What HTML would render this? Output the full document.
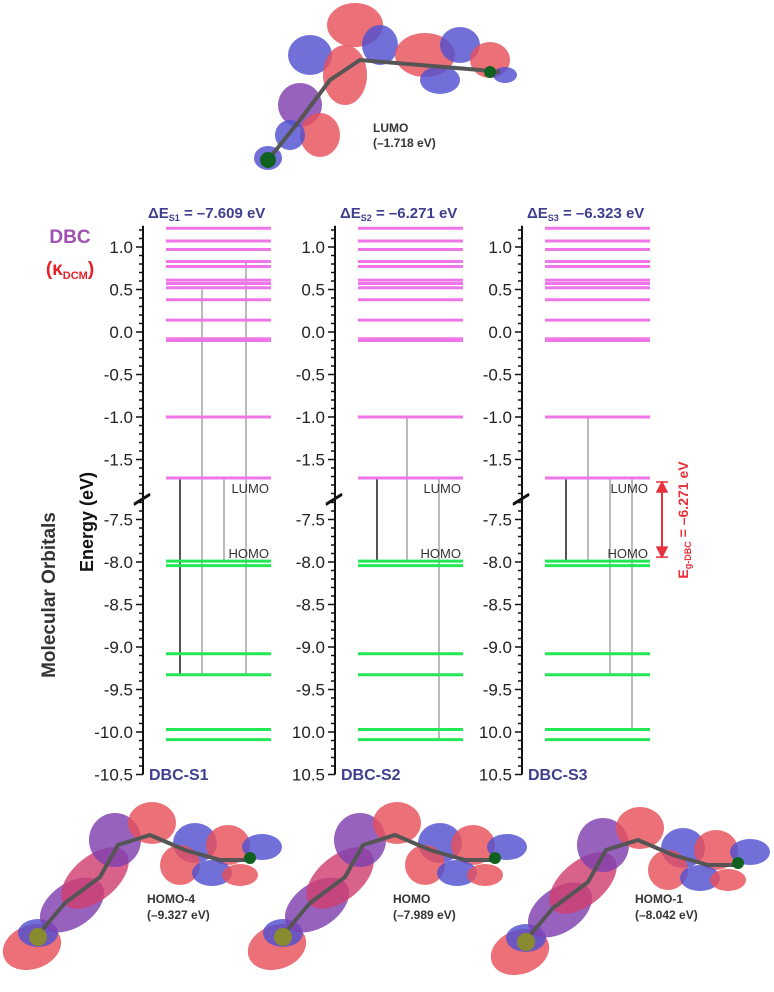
<!DOCTYPE html>
<html><head><meta charset="utf-8">
<style>
html,body{margin:0;padding:0;background:#fff;}
body{width:774px;height:992px;overflow:hidden;font-family:"Liberation Sans",Arial,sans-serif;}
svg{display:block;}
</style></head>
<body>
<svg id="fig" width="774" height="992" viewBox="0 0 774 992" xmlns="http://www.w3.org/2000/svg" font-family="Liberation Sans, Arial, sans-serif">
<rect width="774" height="992" fill="#fff"/>
<g id="mols"></g>
<g id="chart"></g>
<text x="70" y="243" font-size="19" font-weight="bold" fill="#a050b0" text-anchor="middle">DBC</text>
<text x="70" y="275" font-size="19" font-weight="bold" fill="#e8202a" text-anchor="middle">(κ<tspan font-size="11" dy="4">DCM</tspan><tspan dy="-4">)</tspan></text>
<text transform="translate(55,595) rotate(-90)" font-size="19" font-weight="bold" fill="#333" text-anchor="middle">Molecular Orbitals</text>
<text transform="translate(93,522) rotate(-90)" font-size="18" font-weight="bold" fill="#111" text-anchor="middle">Energy (eV)</text>
<text x="373" y="132" font-size="12" font-weight="bold" fill="#333">LUMO</text>
<text x="373" y="147" font-size="12" font-weight="bold" fill="#333">(–1.718 eV)</text>
<text x="147" y="903" font-size="12" font-weight="bold" fill="#333">HOMO-4</text>
<text x="147" y="919" font-size="12" font-weight="bold" fill="#333">(–9.327 eV)</text>
<text x="393" y="903" font-size="12" font-weight="bold" fill="#333">HOMO</text>
<text x="393" y="919" font-size="12" font-weight="bold" fill="#333">(–7.989 eV)</text>
<text x="635" y="903" font-size="12" font-weight="bold" fill="#333">HOMO-1</text>
<text x="635" y="919" font-size="12" font-weight="bold" fill="#333">(–8.042 eV)</text>
</svg>
<script>
// ---- data ----
const pinkLevels = [1.22, 1.07, 0.97, 0.83, 0.77, 0.61, 0.57, 0.52, 0.38, 0.14, -0.08, -0.10, -1.0, -1.718];
const greenLevels = [-7.989, -8.042, -9.08, -9.327, -9.97, -10.09];
const panelNames = ["DBC-S1", "DBC-S2", "DBC-S3"];
const panelTitles = ["S1", "S2", "S3"];
const panelDeltaE = ["–7.609", "–6.271", "–6.323"];
const upperTicks = [1.0, 0.5, 0.0, -0.5, -1.0, -1.5];
const upperTickLabels = ["1.0","0.5","0.0","-0.5","-1.0","-1.5"];
const lowerTicks = [-7.5, -8.0, -8.5, -9.0, -9.5, -10.0, -10.5];
const lowerTickLabels = ["-7.5","-8.0","-8.5","-9.0","-9.5","-10.0","-10.5"];
const lowerTickLabelsOther = ["-7.5","-8.0","-8.5","-9.0","-9.5","10.0","10.5"];
// transitions per panel: [fromEnergy, toEnergy, dark?]
const transS1 = [[-1.718, -9.327, 1], [0.5, -9.327, 0], [-1.718, -8.0, 0], [0.82, -9.327, 0]];
const transS2 = [[-1.718, -7.989, 1], [-1.0, -7.989, 0], [-1.718, -10.09, 0]];
const transS3 = [[-1.718, -7.989, 1], [-1.0, -7.989, 0], [-1.718, -9.327, 0], [-1.718, -9.97, 0]];
const gapValue = "–6.271";

// ---- axis functions ----
const PX = 85;
function yE(e){ return e > -5 ? 417 - (e + 1.0) * PX : 562 - (e + 8.0) * PX; }
const axisX = [143, 335, 522];
const levelX0 = 23, levelW = 105;
const transOffsets = [[37, 59, 81, 103], [42, 72, 104], [44, 66, 88, 110]];
const allTrans = [transS1, transS2, transS3];

const NS = "http://www.w3.org/2000/svg";
const chart = document.getElementById('chart');
function mk(tag, attrs, parent){
  const el = document.createElementNS(NS, tag);
  for (const k in attrs) el.setAttribute(k, attrs[k]);
  (parent || chart).appendChild(el);
  return el;
}

for (let p = 0; p < 3; p++) {
  const ax = axisX[p];
  const g = mk('g', {});
  
  
  const topEnd = yE(1.25), brk1 = yE(-1.95), brk2 = yE(-7.27), bot = yE(-10.5);
  const a1 = mk('line', {x1: ax, x2: ax, y1: topEnd, y2: brk1, stroke: '#111', 'stroke-width': 2}, g);
  
  
  const a2 = mk('line', {x1: ax, x2: ax, y1: brk2, y2: bot, stroke: '#111', 'stroke-width': 2}, g);
  
  
  const bk = mk('path', {d: `M${ax-9} ${brk1+6} L${ax+7} ${brk1-4} M${ax-9} ${brk2+5} L${ax+7} ${brk2-5}`, stroke: '#111', 'stroke-width': 2, fill: 'none'}, g);
  
  
  for (let k = 12; k >= -19; k--) {
    const e = k / 10;
    const major = k % 5 === 0;
    mk('line', {x1: ax - (major ? 7 : 4), x2: ax, y1: yE(e), y2: yE(e), stroke: '#111', 'stroke-width': 1.5}, g);
  }
  for (let k = -73; k >= -105; k--) {
    const e = k / 10;
    const major = k % 5 === 0;
    mk('line', {x1: ax - (major ? 7 : 4), x2: ax, y1: yE(e), y2: yE(e), stroke: '#111', 'stroke-width': 1.5}, g);
  }
  upperTicks.forEach((v, i) => {
    const t = mk('text', {x: ax - 10, y: yE(v) + 6, 'font-size': 17, 'text-anchor': 'end', fill: '#222'}, g);
    t.textContent = upperTickLabels[i];
    
    
  });
  lowerTicks.forEach((v, i) => {
    const t = mk('text', {x: ax - 10, y: yE(v) + 6, 'font-size': 17, 'text-anchor': 'end', fill: '#222'}, g);
    t.textContent = p === 0 ? lowerTickLabels[i] : lowerTickLabelsOther[i];
    
    
  });
  const tt = mk('text', {x: ax + 5, y: 218, 'font-size': 15, 'font-weight': 'bold', fill: '#3e3e8e'}, g);
  tt.innerHTML = 'ΔE<tspan font-size="9" dy="3">' + panelTitles[p] + '</tspan><tspan dy="-3"> = ' + panelDeltaE[p] + ' eV</tspan>';
  
  
  const nm = mk('text', {x: ax + 6, y: 780, 'font-size': 16, 'font-weight': 'bold', fill: '#3e3e8e'}, g);
  nm.textContent = panelNames[p];
  
  
  allTrans[p].forEach((tr, i) => {
    const x = ax + transOffsets[p][i];
    const l = mk('line', {x1: x, x2: x, y1: yE(tr[0]), y2: yE(tr[1]), stroke: tr[2] ? '#555' : '#bbb', 'stroke-width': 2}, g);
    
    
  });
  pinkLevels.forEach(v => {
    const l = mk('line', {x1: ax + levelX0, x2: ax + levelX0 + levelW, y1: yE(v), y2: yE(v), stroke: '#f075e8', 'stroke-width': 3}, g);
    
    
  });
  greenLevels.forEach(v => {
    const l = mk('line', {x1: ax + levelX0, x2: ax + levelX0 + levelW, y1: yE(v), y2: yE(v), stroke: '#22e855', 'stroke-width': 3}, g);
    
    
  });
  const lu = mk('text', {x: ax + levelX0 + levelW - 2, y: yE(-1.718) + 15, 'font-size': 13, 'text-anchor': 'end', fill: '#333'}, g);
  lu.textContent = 'LUMO';
  
  
  const ho = mk('text', {x: ax + levelX0 + levelW - 2, y: yE(-7.989) - 3, 'font-size': 13, 'text-anchor': 'end', fill: '#333'}, g);
  ho.textContent = 'HOMO';
  
  
}

const gy1 = yE(-1.718) + 4, gy2 = yE(-7.989) - 4;
const ga = mk('g', {});


mk('line', {x1: 662, x2: 662, y1: gy1 + 6, y2: gy2 - 6, stroke: '#e8303a', 'stroke-width': 2}, ga);
mk('path', {d: `M656 ${gy1} L668 ${gy1} M662 ${gy1} L657 ${gy1+10} L667 ${gy1+10} Z M656 ${gy2} L668 ${gy2} M662 ${gy2} L657 ${gy2-10} L667 ${gy2-10} Z`, stroke: '#e8303a', fill: '#e8303a', 'stroke-width': 1.5}, ga);
const gt = mk('text', {transform: 'translate(688,520) rotate(-90)', 'font-size': 14, 'font-weight': 'bold', fill: '#e8303a', 'text-anchor': 'middle'});
gt.innerHTML = 'E<tspan font-size="9" dy="3">g-DBC</tspan><tspan dy="-3"> = ' + gapValue + ' eV</tspan>';



const mols = document.getElementById('mols');
const R = '#e8505a', B = '#5050d0', P = '#8040b0';
const homoBlobs = [
  [32,162,30,22,-20,R],[38,148,20,14,0,B],[72,120,36,22,-35,P],[95,93,40,22,-40,'#d04070'],
  [115,55,26,27,0,P],[152,38,24,21,0,R],[195,58,22,20,0,B],[180,80,20,20,0,R],
  [228,60,22,20,0,R],[262,62,20,13,0,B],[212,88,20,13,0,B],[240,90,18,11,0,R]];
function drawMol(dx, dy, blobs, name){
  const g = mk('g', {transform: `translate(${dx},${dy})`}, mols);
  
  
  blobs.forEach(b => {
    mk('ellipse', {cx: b[0], cy: b[1], rx: b[2], ry: b[3], transform: `rotate(${b[4]} ${b[0]} ${b[1]})`, fill: b[5], 'fill-opacity': 0.82}, g);
  });
  mk('path', {d: 'M38 150 L65 118 L100 92 L118 60 L150 50 L185 65 L220 75 L250 75', stroke: '#555', 'stroke-width': 4, fill: 'none'}, g);
  mk('circle', {cx: 38, cy: 152, r: 9, fill: '#8a8a30'}, g);
  mk('circle', {cx: 250, cy: 73, r: 6, fill: '#106020'}, g);
}
drawMol(0, 785, homoBlobs, 'homo4-orbital');
drawMol(245, 785, homoBlobs, 'homo-orbital');
drawMol(488, 790, homoBlobs, 'homo1-orbital');
const lumoBlobs = [
  [355,25,28,22,0,R],[310,55,22,20,0,B],[345,75,22,30,0,R],[380,45,18,20,0,B],
  [425,55,30,22,0,R],[460,45,20,18,0,B],[490,60,20,18,0,R],[440,80,20,14,0,B],
  [300,105,22,22,0,P],[320,135,20,22,0,R],[290,135,15,15,0,B],[268,158,14,12,0,B],[505,75,12,8,0,B]];
const lg = mk('g', {}, mols);


lumoBlobs.forEach(b => {
  mk('ellipse', {cx: b[0], cy: b[1], rx: b[2], ry: b[3], fill: b[5], 'fill-opacity': 0.82}, lg);
});
mk('path', {d: 'M268 160 L300 120 L330 80 L360 60 L420 65 L480 70 L500 72', stroke: '#555', 'stroke-width': 4, fill: 'none'}, lg);
mk('circle', {cx: 268, cy: 160, r: 8, fill: '#106020'}, lg);
mk('circle', {cx: 490, cy: 72, r: 6, fill: '#106020'}, lg);
</script>
</body></html>
